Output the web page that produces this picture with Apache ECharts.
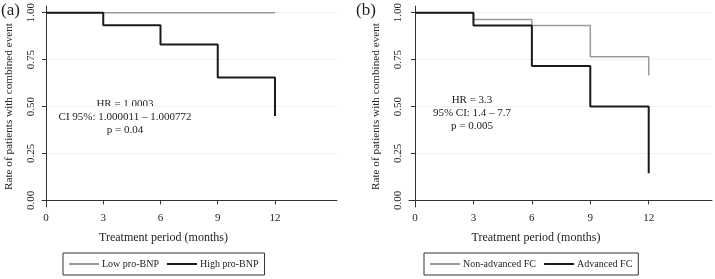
<!DOCTYPE html>
<html>
<head>
<meta charset="utf-8">
<script src="https://cdn.jsdelivr.net/npm/echarts@6/dist/echarts.min.js"></script>
<style>
html,body{margin:0;padding:0;background:#fff;}
#main{width:715px;height:279px;}
</style>
</head>
<body>
<div id="main"></div>
<script>
// 数据
var months = [0, 3, 6, 9, 12];
var xTicks = [0, 3, 6, 9, 12];
var yTicks = [0, 0.25, 0.5, 0.75, 1];
var lowBnp = [1, 1, 1, 1, 1];
var highBnp = [1, 0.933, 0.83, 0.654, 0.45];
var nonAdvFc = [1, 0.963, 0.931, 0.765, 0.665];
var advFc = [1, 0.931, 0.716, 0.50, 0.145];

function pairs(ys){
	var r = [];
	for(var i=0;i<months.length;i++){ r.push([months[i], ys[i]]); }
	return r;
}

var font = 'Liberation Serif';
var axisCol = '#333';

function xAx(idx, min, max){
	return {
		gridIndex: idx, type: 'value', min: min, max: max,
		axisLine: {show: true, lineStyle: {color: axisCol, width: 1}},
		axisTick: {show: true, length: 4, customValues: xTicks, lineStyle: {color: axisCol}},
		axisLabel: {customValues: xTicks, fontFamily: font, fontSize: 11, color: '#222', margin: 6},
		splitLine: {show: false}
	};
}
function yAx(idx){
	return {
		gridIndex: idx, type: 'value', min: -0.035, max: 1.035,
		name: 'Rate of patients with combined event', nameLocation: 'middle', nameGap: 27,
		nameTextStyle: {fontFamily: font, fontSize: 11.2, color: '#222'},
		axisLine: {show: true, lineStyle: {color: axisCol, width: 1}},
		axisTick: {show: true, length: 4, customValues: yTicks, lineStyle: {color: axisCol}},
		axisLabel: {customValues: yTicks, rotate: 90, fontFamily: font, fontSize: 11, color: '#222', margin: 5,
			formatter: function(v){ return v.toFixed(2); }},
		splitLine: {show: true, lineStyle: {color: '#edf3f3', width: 1}}
	};
}
function stepLine(name, idx, ys, color, w){
	return {
		name: name, type: 'line', xAxisIndex: idx, yAxisIndex: idx,
		step: 'end', symbol: 'none', data: pairs(ys),
		lineStyle: {color: color, width: w}, itemStyle: {color: color},
		animation: false
	};
}
function legendBox(left, names){
	return {
		left: left, top: 253, orient: 'horizontal',
		data: names, icon: 'path://M0,0 L30,0 L30,2 L0,2 Z',
		itemWidth: 30, itemHeight: 2, itemGap: 8,
		borderColor: '#333', borderWidth: 1, padding: [6, 6],
		textStyle: {fontFamily: font, fontSize: 10, color: '#222', padding: [0, 0, 0, -2]},
		selectedMode: false
	};
}
function t(x, y, s, size, align){
	return {type: 'text', x: x, y: y, style: {text: s, font: size + 'px "' + font + '"', fill: '#222', align: align || 'center'}};
}

var myChart = echarts.init(document.getElementById('main'));
var option = {
	backgroundColor: '#fff',
	grid: [
		{left: 42, top: 5.4, width: 295, height: 201.6},
		{left: 409, top: 5.4, width: 303, height: 201.6}
	],
	xAxis: [xAx(0, -0.21, 15.25), xAx(1, -0.31, 15.25)],
	yAxis: [yAx(0), yAx(1)],
	legend: [
		legendBox(63, ['Low pro-BNP', 'High pro-BNP']),
		legendBox(424, ['Non-advanced FC', 'Advanced FC'])
	],
	series: [
		stepLine('Low pro-BNP', 0, lowBnp, '#9a9a9a', 1.5),
		stepLine('High pro-BNP', 0, highBnp, '#1a1a1a', 2),
		stepLine('Non-advanced FC', 1, nonAdvFc, '#9a9a9a', 1.5),
		stepLine('Advanced FC', 1, advFc, '#1a1a1a', 2)
	],
	graphic: {elements: [
		t(1, 2, '(a)', 17, 'left'),
		t(356, 2, '(b)', 17, 'left'),
		t(163.5, 232, 'Treatment period (months)', 12),
		t(536, 232, 'Treatment period (months)', 12),
		t(125, 98.5, 'HR = 1.0003', 11),
		t(125, 111.5, 'CI 95%: 1.000011 \u2013 1.000772', 11),
		t(125, 124.5, 'p = 0.04', 11),
		t(472, 94.5, 'HR = 3.3', 11),
		t(472, 107.5, '95% CI: 1.4 \u2013 7.7', 11),
		t(472, 120.5, 'p = 0.005', 11)
	]}
};
myChart.setOption(option);
</script>
</body>
</html>
